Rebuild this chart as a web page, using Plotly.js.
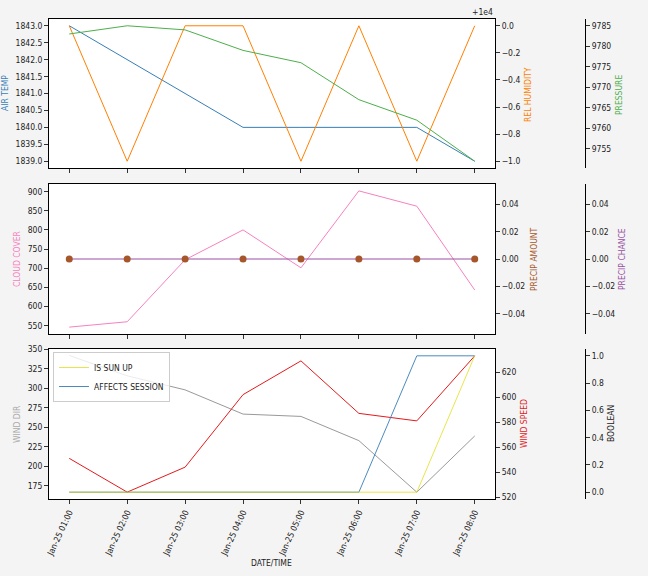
<!DOCTYPE html>
<html>
<head>
<meta charset="utf-8">
<script src="https://cdn.plot.ly/plotly-3.0.1.min.js"></script>
<style>html,body{margin:0;padding:0;background:#f4f4f4;}#chart{width:648px;height:576px;}</style>
</head>
<body>
<div id="chart"></div>
<script>
// ---- data ----
const times = ['2024-01-25 01:00','2024-01-25 02:00','2024-01-25 03:00','2024-01-25 04:00',
               '2024-01-25 05:00','2024-01-25 06:00','2024-01-25 07:00','2024-01-25 08:00'];
const airTemp = [1843, 1842, 1841, 1840, 1840, 1840, 1840, 1839];
const relHumidity = [10000, 9999, 10000, 10000, 9999, 10000, 9999, 10000];
const pressure = [9783, 9785, 9784, 9779, 9776, 9767, 9762, 9752];
const cloudCover = [546, 560, 722, 800, 701, 902, 862, 643];
const precipAmount = [0, 0, 0, 0, 0, 0, 0, 0];
const precipChance = [0, 0, 0, 0, 0, 0, 0, 0];
const windDir = [342, 316, 298, 267, 264, 233, 167, 239];
const windSpeed = [551, 524, 544, 602, 629, 587, 581, 633];
const isSunUp = [0, 0, 0, 0, 0, 0, 0, 1];
const affectsSession = [0, 0, 0, 0, 0, 0, 1, 1];
const humTickVals = [9999, 9999.2, 9999.4, 9999.6, 9999.8, 10000];
const humTickText = ['\u22121.0', '\u22120.8', '\u22120.6', '\u22120.4', '\u22120.2', '0.0'];

// ---- colours ----
const C = {blue:'#377eb8', orange:'#ff7f00', green:'#4daf4a', pink:'#f781bf', brown:'#a65628',
           purple:'#984ea3', red:'#e41a1c', gray:'#999999', yellow:'#e0dc10'};

const FONT = 'DejaVu Sans Condensed, DejaVu Sans, sans-serif';
const FS = 8.5;

const traces = [
  {x: times, y: airTemp, xaxis:'x', yaxis:'y', mode:'lines', line:{color:C.blue, width:1}, showlegend:false},
  {x: times, y: relHumidity, xaxis:'x', yaxis:'y2', mode:'lines', line:{color:C.orange, width:1}, showlegend:false},
  {x: times, y: pressure, xaxis:'x', yaxis:'y3', mode:'lines', line:{color:C.green, width:1}, showlegend:false},
  {x: times, y: cloudCover, xaxis:'x2', yaxis:'y4', mode:'lines', line:{color:C.pink, width:1}, showlegend:false},
  {x: times, y: precipChance, xaxis:'x2', yaxis:'y5', mode:'lines', line:{color:C.purple, width:1}, showlegend:false},
  {x: times, y: precipAmount, xaxis:'x2', yaxis:'y6', mode:'markers', marker:{color:C.brown, size:7}, showlegend:false},
  {x: times, y: windDir, xaxis:'x3', yaxis:'y7', mode:'lines', line:{color:C.gray, width:1}, showlegend:false},
  {x: times, y: windSpeed, xaxis:'x3', yaxis:'y8', mode:'lines', line:{color:C.red, width:1}, showlegend:false},
  {x: times, y: affectsSession, xaxis:'x3', yaxis:'y9', mode:'lines', name:'AFFECTS SESSION', line:{color:C.blue, width:1}, opacity:0.9, legendrank:2},
  {x: times, y: isSunUp, xaxis:'x3', yaxis:'y9', mode:'lines', name:'IS SUN UP', line:{color:C.yellow, width:1}, opacity:0.75, legendrank:1}
];

const XD = [0, 446/559];
const POS2 = (585-49)/559;
const dTop = [(499-168)/480, 1];
const dMid = [(499-334)/480, (499-184)/480];
const dBot = [0, 150/480];
const xRange = ['2024-01-25 00:39', '2024-01-25 08:21'];

function xax(extra){
  return Object.assign({domain: XD, type:'date', range: xRange, dtick: 3600000,
    tickformat:'%b-%d %H:%M', showgrid:false, zeroline:false, showline:true, mirror:true,
    linecolor:'#000', linewidth:1, ticks:'outside', ticklen:4, tickcolor:'#333', tickwidth:1}, extra);
}
function yax(extra){
  return Object.assign({showgrid:false, zeroline:false, ticks:'outside', ticklen:4, tickcolor:'#333',
    tickwidth:1, showline:true, linecolor:'#000', linewidth:1}, extra);
}

const layout = {
  width: 648, height: 576,
  paper_bgcolor: '#f4f4f4', plot_bgcolor: '#ffffff',
  margin: {l:49, r:40, t:19, b:77},
  font: {family: FONT, size: FS, color:'#222'},
  showlegend: true,
  legend: {x: 4/559, y: (499-352)/480, xanchor:'left', yanchor:'top', bgcolor:'rgba(255,255,255,0.8)',
           bordercolor:'#cccccc', borderwidth:1, font:{family:FONT, size:FS, color:'#222'},
           tracegroupgap:0, itemwidth:30},
  xaxis: xax({anchor:'y', showticklabels:false, matches:'x3'}),
  xaxis2: xax({anchor:'y4', showticklabels:false, matches:'x3'}),
  xaxis3: xax({anchor:'y7', tickangle:-65}),
  yaxis: yax({domain: dTop, anchor:'x', range:[1838.8, 1843.2], dtick:0.5, tickformat:'.1f', mirror:true}),
  yaxis2: yax({overlaying:'y', anchor:'x', side:'right', range:[9998.95, 10000.05], tickvals: humTickVals, ticktext: humTickText}),
  yaxis3: yax({overlaying:'y', anchor:'free', position: POS2, side:'right', range:[9750.35, 9786.65], dtick:5, tickformat:'d'}),
  yaxis4: yax({domain: dMid, anchor:'x2', range:[528, 920], dtick:50, mirror:true}),
  yaxis5: yax({overlaying:'y4', anchor:'free', position: POS2, side:'right', range:[-0.055, 0.055], dtick:0.02, tick0:0, tickformat:'.2f'}),
  yaxis6: yax({overlaying:'y4', anchor:'x2', side:'right', range:[-0.055, 0.055], dtick:0.02, tick0:0, tickformat:'.2f'}),
  yaxis7: yax({domain: dBot, anchor:'x3', range:[158.3, 350.3], dtick:25, mirror:true}),
  yaxis8: yax({overlaying:'y7', anchor:'x3', side:'right', range:[518.5, 638.5], dtick:20}),
  yaxis9: yax({overlaying:'y7', anchor:'free', position: POS2, side:'right', range:[-0.05, 1.05], dtick:0.2, tickformat:'.1f'}),
  annotations: []
};

function title(text, px, py, color){
  layout.annotations.push({text: text, xref:'paper', yref:'paper', x:(px-49)/559, y:(499-py)/480,
    textangle:-90, showarrow:false, font:{family:FONT, size:FS, color:color}, xanchor:'center', yanchor:'middle'});
}
title('AIR TEMP', 5, 93, C.blue);
title('REL HUMIDITY', 528, 95, C.orange);
title('PRESSURE', 619, 95, C.green);
title('CLOUD COVER', 17, 259, C.pink);
title('PRECIP AMOUNT', 534, 259, C.brown);
title('PRECIP CHANCE', 622, 259, C.purple);
title('WIND DIR', 17, 424, '#aaaaaa');
title('WIND SPEED', 524, 424, C.red);
title('BOOLEAN', 611, 424, '#222');
layout.annotations.push({text:'DATE/TIME', xref:'paper', yref:'paper', x:(271-49)/559, y:(499-563)/480,
  showarrow:false, font:{family:FONT, size:FS, color:'#222'}, xanchor:'center', yanchor:'middle'});
layout.annotations.push({text:'+1e4', xref:'paper', yref:'paper', x:(495-49)/559, y:(499-12)/480,
  showarrow:false, font:{family:FONT, size:FS, color:'#222'}, xanchor:'right', yanchor:'middle'});

Plotly.newPlot('chart', traces, layout, {displayModeBar:false, staticPlot:true});
</script>
</body>
</html>
